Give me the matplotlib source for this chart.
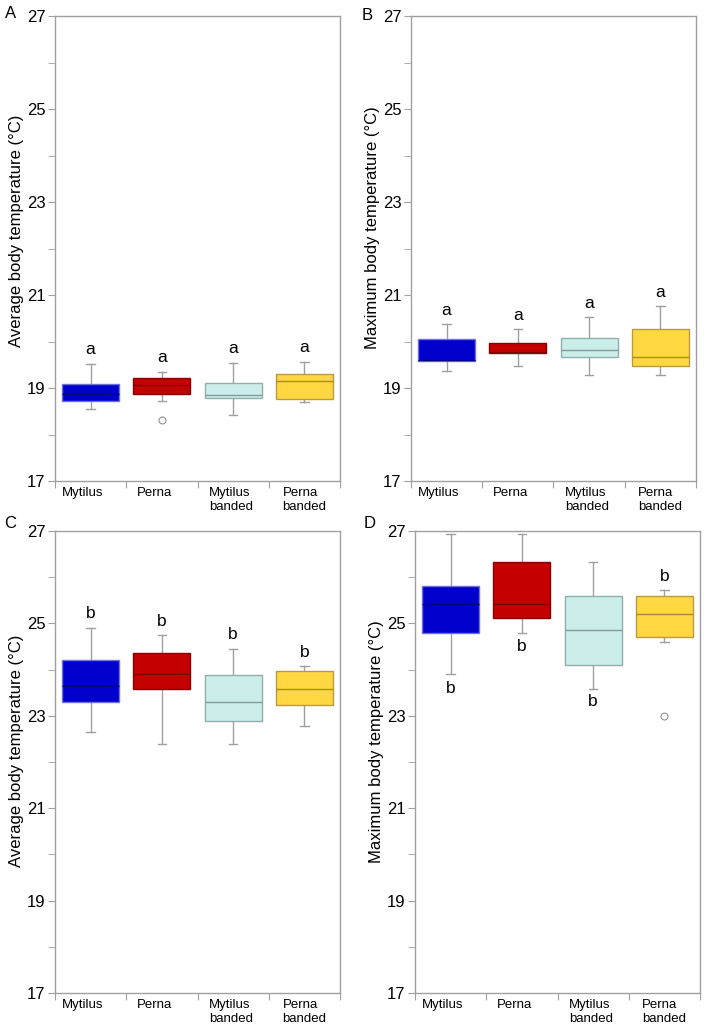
import numpy as np
import matplotlib.pyplot as plt

plt.rcParams['font.family'] = ['Liberation Sans', 'DejaVu Sans']

groups = ['Mytilus', 'Perna', 'Mytilus\nbanded', 'Perna\nbanded']
label_shift = [-0.11, -0.11, -0.03, 0.0]
face_colors = ['#0000CC', '#C40000', '#CCEEEA', '#FFD740']
edge_colors = ['#7070E0', '#8A0000', '#90AEAA', '#B89A40']
median_colors = ['#00008A', '#800000', '#7F9C98', '#A88A30']

# panel A: average body temperature, cool period
a_whislo = [18.54, 18.72, 18.43, 18.69]
a_q1 = [18.73, 18.87, 18.78, 18.76]
a_med = [18.88, 19.06, 18.86, 19.14]
a_q3 = [19.08, 19.21, 19.10, 19.30]
a_whishi = [19.51, 19.34, 19.53, 19.55]
a_fliers = [[], [18.31], [], []]
a_letters = ['a', 'a', 'a', 'a']
a_letter_y = [19.82, 19.65, 19.84, 19.87]

# panel B: maximum body temperature, cool period
b_whislo = [19.37, 19.47, 19.27, 19.27]
b_q1 = [19.57, 19.76, 19.67, 19.47]
b_med = [19.60, 19.78, 19.81, 19.67]
b_q3 = [20.06, 19.96, 20.07, 20.26]
b_whishi = [20.37, 20.26, 20.53, 20.76]
b_fliers = [[], [], [], []]
b_letters = ['a', 'a', 'a', 'a']
b_letter_y = [20.66, 20.56, 20.82, 21.06]

# panel C: average body temperature, warm period
c_whislo = [22.64, 22.38, 22.38, 22.79]
c_q1 = [23.30, 23.57, 22.88, 23.23]
c_med = [23.64, 23.90, 23.29, 23.58]
c_q3 = [24.21, 24.37, 23.88, 23.97]
c_whishi = [24.89, 24.75, 24.45, 24.07]
c_fliers = [[], [], [], []]
c_letters = ['b', 'b', 'b', 'b']
c_letter_y = [25.22, 25.04, 24.77, 24.37]

# panel D: maximum body temperature, warm period
d_whislo = [23.90, 24.80, 23.59, 24.60]
d_q1 = [24.80, 25.11, 24.10, 24.71]
d_med = [25.42, 25.41, 24.86, 25.21]
d_q3 = [25.81, 26.32, 25.60, 25.60]
d_whishi = [26.93, 26.93, 26.32, 25.72]
d_fliers = [[], [], [], [22.99]]
d_letters = ['b', 'b', 'b', 'b']
d_letter_y = [23.59, 24.51, 23.30, 26.01]

yticks_major = [17, 19, 21, 23, 25, 27]
yticks_minor = [18, 20, 22, 24, 26]

W, H = 705, 1032
fig = plt.figure(figsize=(W / 100, H / 100), dpi=100)

def px_axes(l, t, r, b):
    return fig.add_axes([l / W, 1 - b / H, (r - l) / W, (b - t) / H])

axA = px_axes(55, 16, 340, 481)
axB = px_axes(411, 16, 696, 481)
axC = px_axes(55, 531, 340, 993)
axD = px_axes(415, 531, 700, 993)

panels = [
    (axA, a_whislo, a_q1, a_med, a_q3, a_whishi, a_fliers, a_letters, a_letter_y,
     'Average body temperature (°C)', 'A', (5, 13), 0.538),
    (axB, b_whislo, b_q1, b_med, b_q3, b_whishi, b_fliers, b_letters, b_letter_y,
     'Maximum body temperature (°C)', 'B', (362, 15), 0.545),
    (axC, c_whislo, c_q1, c_med, c_q3, c_whishi, c_fliers, c_letters, c_letter_y,
     'Average body temperature (°C)', 'C', (4, 524), 0.525),
    (axD, d_whislo, d_q1, d_med, d_q3, d_whishi, d_fliers, d_letters, d_letter_y,
     'Maximum body temperature (°C)', 'D', (364, 524), 0.545),
]

grey = '#A0A0A0'
for ax, lo, q1, med, q3, hi, fl, letters, ly, ylab, tag, tag_xy, ylab_y in panels:
    stats = []
    for i in range(4):
        stats.append(dict(whislo=lo[i], q1=q1[i], med=med[i], q3=q3[i],
                          whishi=hi[i], fliers=fl[i]))
    pos = np.arange(1, 5)
    bp = ax.bxp(stats, positions=pos, widths=0.8, capwidths=0.12,
                patch_artist=True, showfliers=True,
                whiskerprops=dict(color=grey, lw=1),
                capprops=dict(color=grey, lw=1),
                flierprops=dict(marker='o', markerfacecolor='none',
                                markeredgecolor='#909090', markersize=5, mew=0.8))
    for i, box in enumerate(bp['boxes']):
        box.set_facecolor(face_colors[i])
        box.set_edgecolor(edge_colors[i])
        box.set_linewidth(1)
        box.set_zorder(3)
    for i, m in enumerate(bp['medians']):
        m.set_color(median_colors[i])
        m.set_linewidth(1)
        m.set_zorder(4)

    for i in range(4):
        ax.text(pos[i], ly[i], letters[i], ha='center', va='center', fontsize=12.5)

    ax.set_xlim(0.5, 4.5)
    ax.set_ylim(17, 27)
    ax.set_yticks(yticks_major)
    ax.set_yticks(yticks_minor, minor=True)
    ax.set_xticks([0.5, 1.5, 2.5, 3.5, 4.5])
    ax.set_xticklabels([])
    ax.tick_params(axis='y', which='both', direction='out', length=5,
                   color=grey, labelsize=12, pad=2)
    ax.tick_params(axis='x', direction='out', length=5, color=grey)
    for s in ax.spines.values():
        s.set_color(grey)
        s.set_linewidth(1)

    # category names below the axis
    for i in range(4):
        ax.text(pos[i] + label_shift[i], -0.013, groups[i], ha='center', va='top',
                multialignment='left', fontsize=9.5,
                transform=ax.get_xaxis_transform())

    ax.set_ylabel(ylab, fontsize=12)
    ax.yaxis.set_label_coords(-0.109, ylab_y)

    fig.text(tag_xy[0] / W, 1 - tag_xy[1] / H, tag, fontsize=12,
             ha='left', va='center')

fig.savefig('out.png', dpi=100)
